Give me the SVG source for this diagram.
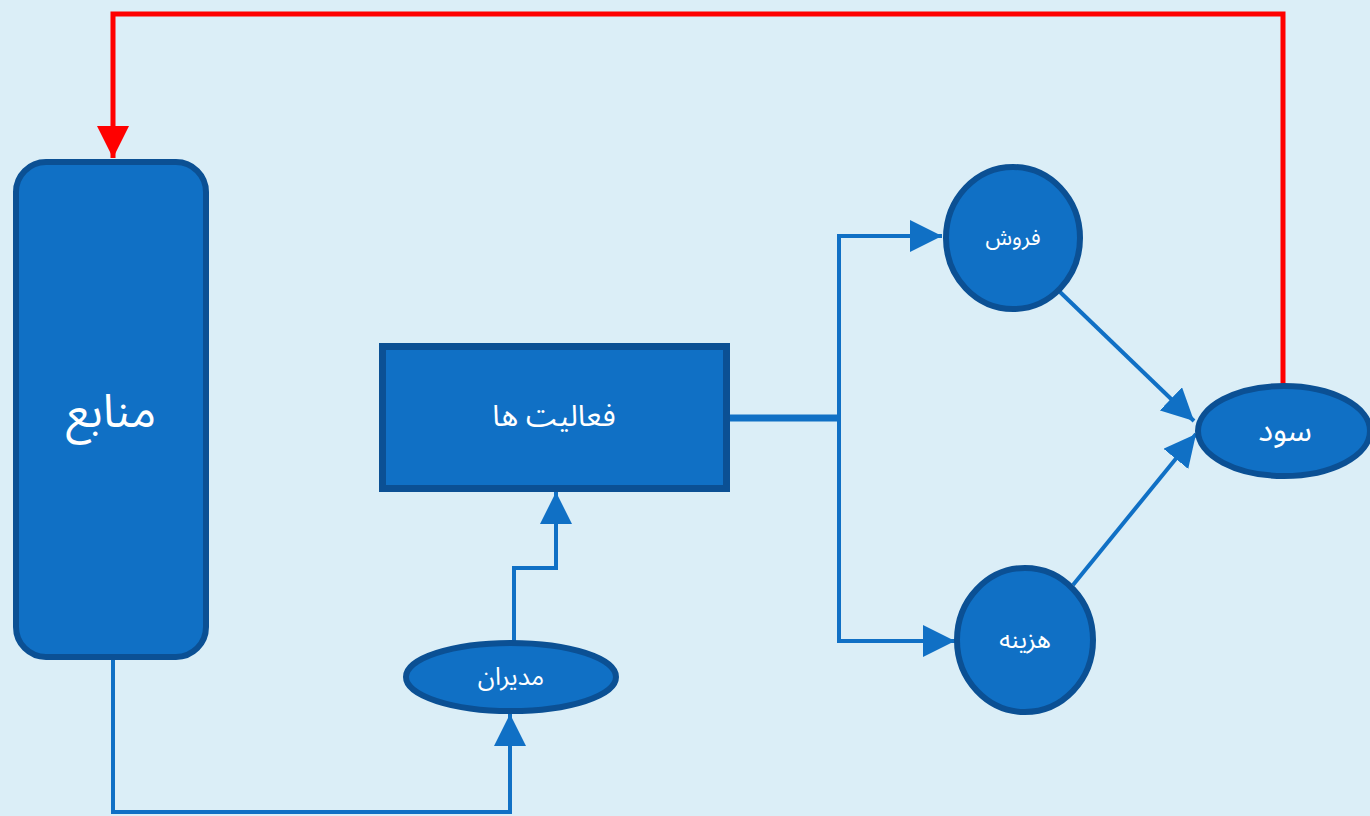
<svg xmlns="http://www.w3.org/2000/svg" width="1370" height="816" viewBox="0 0 1370 816">
<style>
.node{fill:#1070c5;stroke:#0b5094;stroke-width:6}
.lbl{fill:#ffffff;font-family:"Noto Sans Arabic","Noto Sans","DejaVu Sans",sans-serif;text-anchor:middle;dominant-baseline:central}
.conn{fill:none;stroke:#1070c5;stroke-width:4}
.red{fill:none;stroke:#ff0000;stroke-width:5}
</style>
<defs>
<marker id="ab" markerWidth="8" markerHeight="8" refX="8" refY="4" orient="auto" markerUnits="strokeWidth"><path d="M0,0 L8,4 L0,8 Z" fill="#1070c5"/></marker>
<marker id="ar" markerWidth="6.4" markerHeight="6.4" refX="6.4" refY="3.2" orient="auto" markerUnits="strokeWidth"><path d="M0,0 L6.4,3.2 L0,6.4 Z" fill="#ff0000"/></marker>
</defs>
<rect width="1370" height="816" fill="#dbeef7"/>
<g id="connectors">
<path class="red" d="M1283,384 V14 H113 V158" marker-end="url(#ar)"/>
<path class="conn" d="M113,658 V812 H510 V714" marker-end="url(#ab)"/>
<path class="conn" d="M514,643 V568 H556 V492" marker-end="url(#ab)"/>
<path class="conn" d="M730,418 H839" style="stroke-width:7"/>
<path class="conn" d="M839,418 V236 H942" marker-end="url(#ab)"/>
<path class="conn" d="M839,418 V641 H955" marker-end="url(#ab)"/>
<path class="conn" d="M1060,292 L1194,421" marker-end="url(#ab)"/>
<path class="conn" d="M1073,585 L1196,434" marker-end="url(#ab)"/>
</g>
<g id="manabe">
<rect class="node" x="16" y="162" width="190" height="495" rx="30"/>
<text class="lbl" x="111" y="412" font-size="46">منابع</text>
</g>
<g id="faaliatha">
<rect class="node" x="382.5" y="346.5" width="344" height="142" style="stroke-width:7"/>
<text class="lbl" x="554" y="416" font-size="30">فعالیت ها</text>
</g>
<g id="modiran">
<ellipse class="node" cx="511" cy="677" rx="105" ry="34"/>
<text class="lbl" x="511" y="677" font-size="25">مدیران</text>
</g>
<g id="foroosh">
<ellipse class="node" cx="1013" cy="238" rx="67" ry="71"/>
<text class="lbl" x="1013" y="238" font-size="22">فروش</text>
</g>
<g id="hazine">
<ellipse class="node" cx="1025" cy="640" rx="68" ry="72"/>
<text class="lbl" x="1025" y="640" font-size="25">هزینه</text>
</g>
<g id="sood">
<ellipse class="node" cx="1284" cy="431" rx="86" ry="45"/>
<text class="lbl" x="1285" y="431" font-size="31">سود</text>
</g>
</svg>
